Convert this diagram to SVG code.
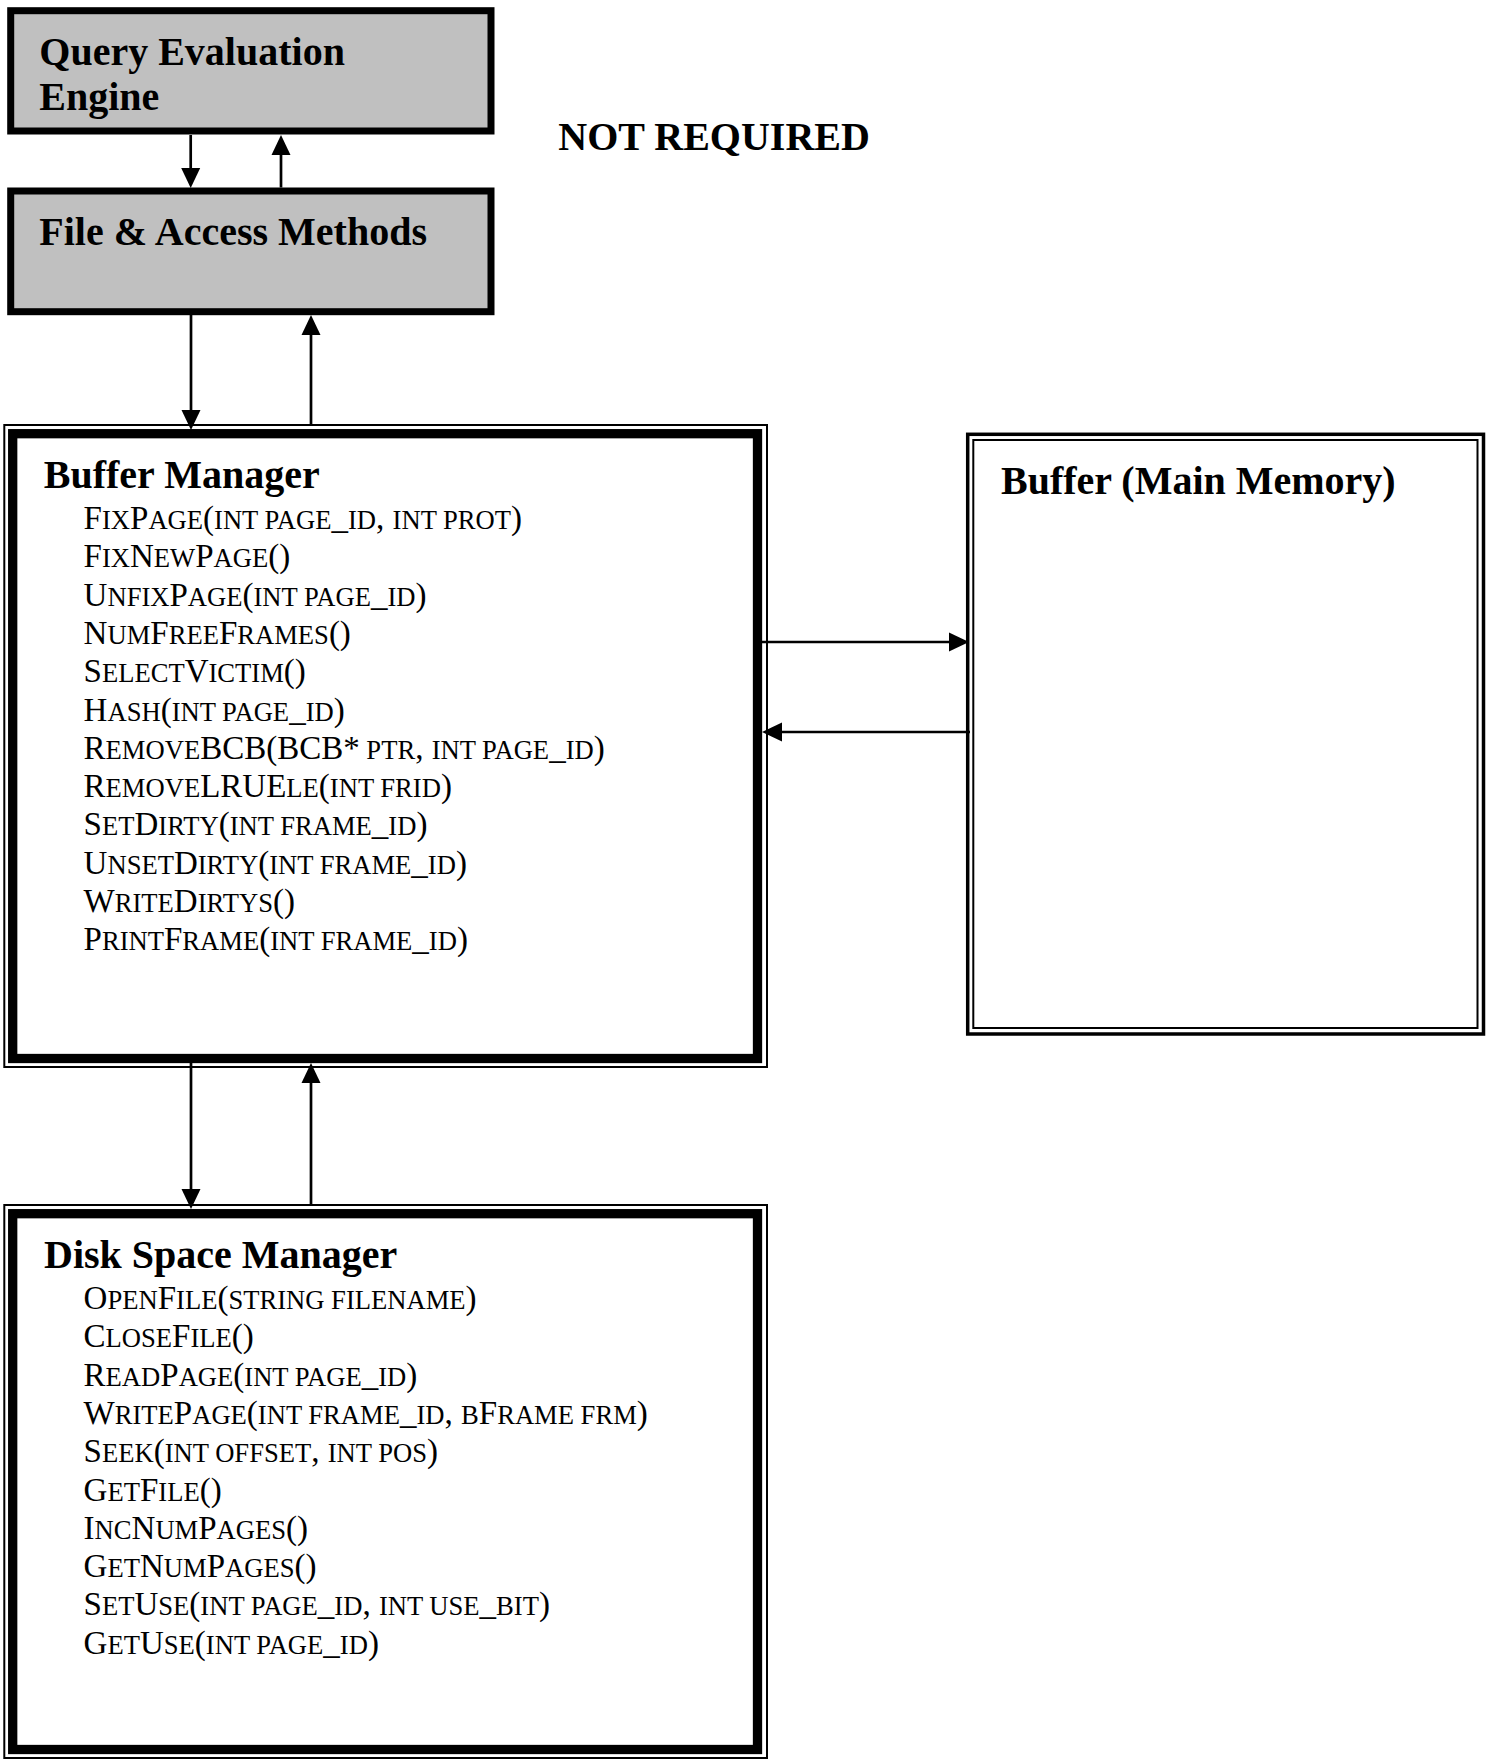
<svg xmlns="http://www.w3.org/2000/svg" width="1490" height="1763" viewBox="0 0 1490 1763">
<style>
text{font-family:"Liberation Serif","Times New Roman",serif;fill:#000}
.t{font-size:40px;font-weight:bold}
.m{font-size:33px}
.s{font-size:26.6px}
.gray{fill:#c0c0c0;stroke:#000;stroke-width:7}
.thick{fill:none;stroke:#000;stroke-width:9.3}
.thin{fill:none;stroke:#000;stroke-width:2}
.c{fill:none;stroke:#000;stroke-width:2.7}
</style>
<defs>
<marker id="ah" markerUnits="userSpaceOnUse" markerWidth="20" markerHeight="20" viewBox="0 0 20 20" refX="9" refY="10" orient="auto">
<path d="M0,0.5 L20,10 L0,19.5 z" fill="#000"/>
</marker>
</defs>
<rect width="1490" height="1763" fill="#fff"/>

<g id="query-evaluation-engine">
<rect class="gray" x="10.7" y="10.7" width="480.3" height="120.3"/>
<text class="t" x="39.3" y="65">Query Evaluation</text>
<text class="t" x="39.3" y="110">Engine</text>
</g>

<g id="file-access-methods">
<rect class="gray" x="10.7" y="191" width="480.3" height="120.7"/>
<text class="t" x="39.3" y="245">File &amp; Access Methods</text>
</g>

<g id="not-required">
<text class="t" x="558.3" y="150">NOT REQUIRED</text>
</g>

<g id="buffer-manager">
<rect class="thin" x="4.3" y="425" width="762.7" height="642"/>
<rect class="thick" x="12.7" y="433.7" width="744.8" height="624.8"/>
<text class="t" x="43.8" y="488">Buffer Manager</text>
<text class="m" x="83.6" y="529">F<tspan class="s">IX</tspan>P<tspan class="s">AGE</tspan>(<tspan class="s">INT PAGE</tspan>_<tspan class="s">ID</tspan>, <tspan class="s">INT PROT</tspan>)</text>
<text class="m" x="83.6" y="567.3">F<tspan class="s">IX</tspan>N<tspan class="s">EW</tspan>P<tspan class="s">AGE</tspan>()</text>
<text class="m" x="83.6" y="605.6">U<tspan class="s">NFIX</tspan>P<tspan class="s">AGE</tspan>(<tspan class="s">INT PAGE</tspan>_<tspan class="s">ID</tspan>)</text>
<text class="m" x="83.6" y="643.9">N<tspan class="s">UM</tspan>F<tspan class="s">REE</tspan>F<tspan class="s">RAMES</tspan>()</text>
<text class="m" x="83.6" y="682.2">S<tspan class="s">ELECT</tspan>V<tspan class="s">ICTIM</tspan>()</text>
<text class="m" x="83.6" y="720.5">H<tspan class="s">ASH</tspan>(<tspan class="s">INT PAGE</tspan>_<tspan class="s">ID</tspan>)</text>
<text class="m" x="83.6" y="758.8">R<tspan class="s">EMOVE</tspan>BCB(BCB*<tspan class="s"> PTR</tspan>, <tspan class="s">INT PAGE</tspan>_<tspan class="s">ID</tspan>)</text>
<text class="m" x="83.6" y="797.1">R<tspan class="s">EMOVE</tspan>LRUE<tspan class="s">LE</tspan>(<tspan class="s">INT FRID</tspan>)</text>
<text class="m" x="83.6" y="835.4">S<tspan class="s">ET</tspan>D<tspan class="s">IRTY</tspan>(<tspan class="s">INT FRAME</tspan>_<tspan class="s">ID</tspan>)</text>
<text class="m" x="83.6" y="873.7">U<tspan class="s">NSET</tspan>D<tspan class="s">IRTY</tspan>(<tspan class="s">INT FRAME</tspan>_<tspan class="s">ID</tspan>)</text>
<text class="m" x="83.6" y="912">W<tspan class="s">RITE</tspan>D<tspan class="s">IRTYS</tspan>()</text>
<text class="m" x="83.6" y="950.3">P<tspan class="s">RINT</tspan>F<tspan class="s">RAME</tspan>(<tspan class="s">INT FRAME</tspan>_<tspan class="s">ID</tspan>)</text>
</g>

<g id="buffer-main-memory">
<rect fill="none" stroke="#000" stroke-width="3.5" x="967.7" y="434.3" width="515.8" height="599.7"/>
<rect class="thin" x="973.3" y="440" width="504.2" height="588"/>
<text class="t" x="1001" y="494">Buffer (Main Memory)</text>
</g>

<g id="disk-space-manager">
<rect class="thin" x="4.3" y="1205" width="762.7" height="553"/>
<rect class="thick" x="12.7" y="1213.7" width="744.8" height="535.8"/>
<text class="t" x="44" y="1268">Disk Space Manager</text>
<text class="m" x="83.6" y="1309">O<tspan class="s">PEN</tspan>F<tspan class="s">ILE</tspan>(<tspan class="s">STRING FILENAME</tspan>)</text>
<text class="m" x="83.6" y="1347.3">C<tspan class="s">LOSE</tspan>F<tspan class="s">ILE</tspan>()</text>
<text class="m" x="83.6" y="1385.6">R<tspan class="s">EAD</tspan>P<tspan class="s">AGE</tspan>(<tspan class="s">INT PAGE</tspan>_<tspan class="s">ID</tspan>)</text>
<text class="m" x="83.6" y="1423.9">W<tspan class="s">RITE</tspan>P<tspan class="s">AGE</tspan>(<tspan class="s">INT FRAME</tspan>_<tspan class="s">ID</tspan>, <tspan class="s">B</tspan>F<tspan class="s">RAME FRM</tspan>)</text>
<text class="m" x="83.6" y="1462.2">S<tspan class="s">EEK</tspan>(<tspan class="s">INT OFFSET</tspan>, <tspan class="s">INT POS</tspan>)</text>
<text class="m" x="83.6" y="1500.5">G<tspan class="s">ET</tspan>F<tspan class="s">ILE</tspan>()</text>
<text class="m" x="83.6" y="1538.8">I<tspan class="s">NC</tspan>N<tspan class="s">UM</tspan>P<tspan class="s">AGES</tspan>()</text>
<text class="m" x="83.6" y="1577.1">G<tspan class="s">ET</tspan>N<tspan class="s">UM</tspan>P<tspan class="s">AGES</tspan>()</text>
<text class="m" x="83.6" y="1615.4">S<tspan class="s">ET</tspan>U<tspan class="s">SE</tspan>(<tspan class="s">INT PAGE</tspan>_<tspan class="s">ID</tspan>, <tspan class="s">INT USE</tspan>_<tspan class="s">BIT</tspan>)</text>
<text class="m" x="83.6" y="1653.7">G<tspan class="s">ET</tspan>U<tspan class="s">SE</tspan>(<tspan class="s">INT PAGE</tspan>_<tspan class="s">ID</tspan>)</text>
</g>

<g id="connectors">
<path class="c" d="M190.7,135 L190.7,177" marker-end="url(#ah)"/>
<path class="c" d="M281,187.5 L281,146" marker-end="url(#ah)"/>
<path class="c" d="M191,315 L191,419" marker-end="url(#ah)"/>
<path class="c" d="M311,425 L311,326" marker-end="url(#ah)"/>
<path class="c" d="M191,1063 L191,1198" marker-end="url(#ah)"/>
<path class="c" d="M311,1205 L311,1074" marker-end="url(#ah)"/>
<path class="c" d="M762,642 L958,642" marker-end="url(#ah)"/>
<path class="c" d="M970,732 L773,732" marker-end="url(#ah)"/>
</g>
</svg>
